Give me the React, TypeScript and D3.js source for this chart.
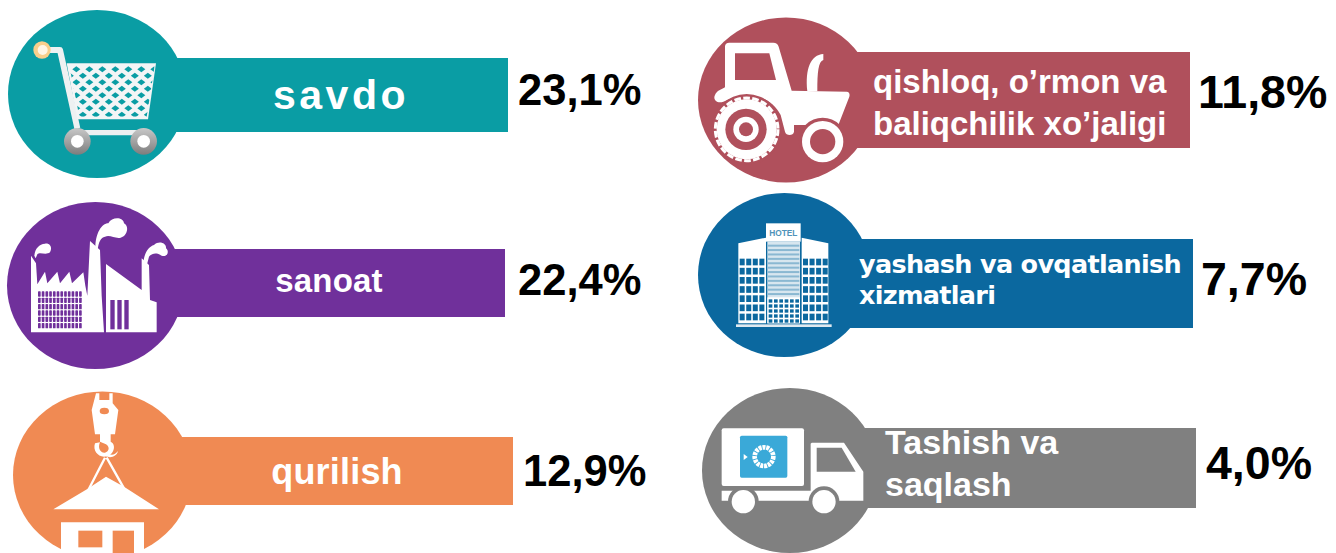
import React from 'react';
import * as d3 from 'd3';

const sectors = ['savdo', 'sanoat', 'qurilish', 'qishloq', 'yashash', 'tashish'];
const shares = [23.1, 22.4, 12.9, 11.8, 7.7, 4.0];
const labelLines = [
  ['savdo'],
  ['sanoat'],
  ['qurilish'],
  ['qishloq, o’rmon va', 'baliqchilik xo’jaligi'],
  ['yashash va ovqatlanish', 'xizmatlari'],
  ['Tashish va', 'saqlash'],
];
const colors = ['#0a9da4', '#70309b', '#f08a53', '#b0505c', '#0b689f', '#808080'];

const WIDTH = 1336;
const HEIGHT = 553;
const SANS = '"Liberation Sans", Arial, sans-serif';

// decimal comma, as in the original
const fmt = d3.formatLocale({ decimal: ',', thousands: ' ', grouping: [3], currency: ['', ''] }).format('.1f');

// layout per sector, the discs are slightly wider than tall in the original
const circleX = d3.scaleOrdinal<string, number>().domain(sectors).range([97, 95.4, 102.4, 786, 784.4, 789.8]);
const circleY = d3.scaleOrdinal<string, number>().domain(sectors).range([94, 285.5, 475, 100, 275, 470.5]);
const circleRx = d3.scaleOrdinal<string, number>().domain(sectors).range([89, 88.4, 89.4, 88, 86.4, 87.8]);
const circleRy = d3.scaleOrdinal<string, number>().domain(sectors).range([84, 83.5, 83.5, 82.5, 82, 82.5]);
const barTop = d3.scaleOrdinal<string, number>().domain(sectors).range([58, 249, 437, 52, 239, 428]);
const barBottom = d3.scaleOrdinal<string, number>().domain(sectors).range([132, 317, 505, 148, 328, 508]);
const barEnd = d3.scaleOrdinal<string, number>().domain(sectors).range([508, 505, 513, 1190, 1193, 1196]);
const shareX = d3.scaleOrdinal<string, number>().domain(sectors).range([518, 518, 523, 1198, 1201, 1206]);
const shareY = d3.scaleOrdinal<string, number>().domain(sectors).range([105, 295, 486, 108, 295, 479]);
const shareSize = d3.scaleOrdinal<string, number>().domain(sectors).range([43.5, 43.5, 43.5, 46.5, 46.5, 46.5]);

type LabelStyle = { x: number; y: number[]; size: number; spacing: number; anchor: string; family: string; };
const labelStyle: LabelStyle[] = [
  { x: 341, y: [109], size: 41, spacing: 3.5, anchor: 'middle', family: SANS },
  { x: 329, y: [292], size: 33, spacing: 0.2, anchor: 'middle', family: SANS },
  { x: 337, y: [484], size: 36, spacing: 0.2, anchor: 'middle', family: SANS },
  { x: 873, y: [93, 135], size: 33, spacing: 0, anchor: 'start', family: SANS },
  { x: 859, y: [273, 304], size: 25.5, spacing: -0.7, anchor: 'start', family: '"DejaVu Sans", sans-serif' },
  { x: 885, y: [454, 496], size: 34, spacing: 0, anchor: 'start', family: SANS },
];

// icons are traced at 3x of the picture, relative to these origins
const Icon = ({ x, y, children }: { x: number; y: number; children: React.ReactNode }) => (
  <g transform={`translate(${x},${y}) scale(${1 / 3})`}>{children}</g>
);

const Cart = ({ color }: { color: string }) => {
  const diamonds: [number, number][] = [];
  d3.range(0, 10).forEach((row) => {
    d3.range(0, 14).forEach((col) => {
      diamonds.push([190 + col * 39 + (row % 2) * 19.5, 208 + row * 19.5]);
    });
  });
  return (
    <Icon x={0} y={0}>
      <defs>
        <clipPath id="basket">
          <path d="M208,198 L464,198 L440,350 L238,350 Z" />
        </clipPath>
        <linearGradient id="wheelGrad" x1="0" y1="0" x2="0" y2="1">
          <stop offset="0" stopColor="#c8c8c8" />
          <stop offset="1" stopColor="#7d7d7d" />
        </linearGradient>
      </defs>
      <path d="M125,150 L180,150 L232,385" fill="none" stroke="#eef1f2" strokeWidth={18} strokeLinejoin="round" />
      <path d="M200,190 L468,190 L444,358 L232,358 Z" fill="#f3f5f6" />
      <g clipPath="url(#basket)" fill={color}>
        {diamonds.map(([dx, dy], i) => (
          <path key={i} d={`M${dx},${dy - 9} L${dx + 12},${dy} L${dx},${dy + 9} L${dx - 12},${dy} Z`} />
        ))}
      </g>
      <path d="M235,398 L440,398" stroke="#eceff0" strokeWidth={16} />
      <circle cx={126} cy={150} r={26} fill="#f8cf8c" />
      <circle cx={128} cy={150} r={15} fill="#fff6e6" />
      <circle cx={232} cy={424} r={40} fill="url(#wheelGrad)" />
      <circle cx={232} cy={424} r={19} fill="#fff" />
      <circle cx={431} cy={424} r={40} fill="url(#wheelGrad)" />
      <circle cx={431} cy={424} r={19} fill="#fff" />
    </Icon>
  );
};

const Factory = ({ color }: { color: string }) => (
  <Icon x={0} y={195}>
    <path
      fill="#fff"
      d="M93,412 L93,182 L108,205 L112,268 L135,230 L142,265 L172,230 L180,265 L208,230 L216,265 L250,232 L256,272 L262,302 L270,138 L300,165 L305,302 L312,412 Z"
    />
    <path fill="#fff" d="M318,412 L318,207 L425,285 L425,190 L447,210 L450,315 L470,322 L470,412 Z" />
    <g fill={color}>
      {d3.range(0, 6).map((row) =>
        d3.range(0, 12).map((col) => (
          <rect key={`${row}-${col}`} x={114 + col * 11.2} y={289 + row * 19} width={8} height={16} rx={2} />
        ))
      )}
      {d3.range(0, 3).map((i) => (
        <rect key={i} x={331 + i * 21} y={315} width={13} height={88} />
      ))}
    </g>
    <g fill="#fff">
      <path d="M103,182 C105,160 118,147 135,146 C150,143 158,158 150,172 C138,182 120,170 112,178 L107,190 Z" />
      <path d="M286,160 C286,115 305,85 325,85 C335,65 370,65 372,85 C390,95 380,125 362,128 C345,132 330,118 315,125 C302,128 296,140 293,165 Z" />
      <path d="M430,205 C432,175 445,155 462,150 C478,135 500,145 498,160 C510,170 500,188 485,182 C470,172 455,175 447,185 L440,212 Z" />
    </g>
  </Icon>
);

const Crane = ({ color }: { color: string }) => (
  <Icon x={0} y={385}>
    <path fill="#fff" d="M288,25 L298,25 L298,45 L328,45 L328,25 L338,25 L338,55 L355,75 L345,148 L332,148 L332,170 C352,180 340,215 312,215 C292,215 278,195 285,175 L300,172 C292,190 302,205 315,203 C328,200 330,185 318,178 L300,170 L300,148 L285,148 L275,75 Z" />
    <ellipse cx={313} cy={78} rx={14} ry={10} fill={color} />
    <path fill="#fff" d="M322,205 C335,212 345,210 354,198 C350,215 332,220 318,214 Z" />
    <path d="M315,218 L265,315 M320,218 L372,310" stroke="#fff" strokeWidth={7} fill="none" />
    <path fill="#fff" d="M160,373 L262,312 L318,275 L372,305 L477,373 Z" />
    <path fill="#fff" d="M183,412 L432,412 L432,553 L183,553 Z" />
    <rect x={235} y={437} width={72} height={50} fill={color} />
    <rect x={338} y={437} width={64} height={116} fill={color} />
  </Icon>
);

const Tractor = ({ color }: { color: string }) => (
  <Icon x={690} y={0}>
    <path fill="#fff" d="M118,128 L250,128 C258,128 264,132 266,140 L305,272 L470,275 C478,276 480,282 478,290 L445,375 L312,375 L312,395 C310,408 288,408 285,395 L272,345 C240,285 170,270 100,305 C80,312 68,298 75,285 C80,272 95,268 105,262 L105,140 C105,132 110,128 118,128 Z" />
    <path fill={color} d="M135,160 L238,160 L258,240 L135,240 Z" />
    <path fill="#fff" d="M352,274 C345,205 362,165 400,162 L400,180 C385,185 382,215 382,274 Z" />
    <circle cx={170} cy={388} r={106} fill={color} />
    <circle cx={170} cy={388} r={94} fill="none" stroke="#fff" strokeWidth={9} strokeDasharray="20 7" />
    <circle cx={170} cy={388} r={90} fill="#fff" />
    <circle cx={168} cy={388} r={62} fill={color} />
    <circle cx={168} cy={388} r={38} fill="#fff" />
    <circle cx={168} cy={388} r={21} fill={color} />
    <circle cx={398} cy={425} r={72} fill={color} />
    <circle cx={398} cy={425} r={62} fill="#fff" />
    <circle cx={398} cy={425} r={38} fill={color} />
  </Icon>
);

const Hotel = ({ color }: { color: string }) => (
  <Icon x={690} y={190}>
    <rect x={138} y={403} width={287} height={8} fill="#dfe9f0" />
    <path fill="#fff" d="M145,160 L228,143 L228,400 L145,400 Z" />
    <path fill="#fff" d="M335,143 L415,160 L415,400 L335,400 Z" />
    <g fill={color}>
      {[149, 339].map((x0) =>
        d3.range(0, 7).map((row) =>
          d3.range(0, 4).map((col) => (
            <rect key={`${x0}-${row}-${col}`} x={x0 + col * 19.7} y={206 + row * 27.5} width={15} height={20} />
          ))
        )
      )}
    </g>
    <rect x={232} y={155} width={98} height={245} fill="#d7e6ef" />
    <g fill="#8ab8d2">
      {d3.range(0, 12).map((i) => (
        <rect key={i} x={234} y={164 + i * 13.2} width={94} height={6} />
      ))}
    </g>
    <rect x={232} y={322} width={98} height={78} fill="#fff" />
    <g fill={color}>
      {d3.range(0, 5).map((row) =>
        d3.range(0, 6).map((col) => (
          <rect key={`${row}-${col}`} x={236 + col * 16} y={328 + row * 15} width={11} height={10} />
        ))
      )}
    </g>
    <rect x={228} y={100} width={104} height={55} fill="#fff" />
    <text x={280} y={138} textAnchor="middle" fontFamily={SANS} fontWeight="bold" fontSize={25} fill="#4f93b9">
      HOTEL
    </text>
  </Icon>
);

const Truck = ({ color }: { color: string }) => (
  <Icon x={690} y={380}>
    <rect x={95} y={145} width={247} height={173} rx={6} fill="#fff" />
    <rect x={150} y={167} width={142} height={126} rx={5} fill="#3aa9d8" />
    <circle cx={222} cy={230} r={28} fill="none" stroke="#fff" strokeWidth={14} strokeDasharray="9 2.5" />
    <circle cx={222} cy={230} r={17} fill="#3aa9d8" />
    <path d="M161,222 L173,231 L161,240 Z" fill="#fff" />
    <path fill="#fff" d="M95,332 L362,332 L362,192 C362,190 364,188 368,188 L462,188 L520,275 L520,362 L95,362 Z" />
    <path fill={color} d="M380,203 L455,203 L497,275 L380,275 Z" />
    <circle cx={160} cy={365} r={46} fill={color} />
    <circle cx={160} cy={365} r={35} fill="#fff" />
    <circle cx={402} cy={365} r={46} fill={color} />
    <circle cx={402} cy={365} r={35} fill="#fff" />
  </Icon>
);

const icons = [Cart, Factory, Crane, Tractor, Hotel, Truck];

export default function App() {
  return (
    <svg
      width={WIDTH}
      height={HEIGHT}
      viewBox={`0 0 ${WIDTH} ${HEIGHT}`}
      style={{ position: 'absolute', left: 0, top: 0, background: '#fff' }}
    >
      {sectors.map((s, i) => {
        const IconShape = icons[i];
        const style = labelStyle[i];
        return (
          <g key={s}>
            <ellipse cx={circleX(s)} cy={circleY(s)} rx={circleRx(s)} ry={circleRy(s)} fill={colors[i]} />
            <rect
              x={circleX(s)}
              y={barTop(s)}
              width={barEnd(s) - circleX(s)}
              height={barBottom(s) - barTop(s)}
              fill={colors[i]}
            />
            <IconShape color={colors[i]} />
            {labelLines[i].map((line, k) => (
              <text
                key={k}
                x={style.x}
                y={style.y[k]}
                textAnchor={style.anchor}
                fontFamily={style.family}
                fontWeight="bold"
                fontSize={style.size}
                letterSpacing={style.spacing}
                fill="#fff"
              >
                {line}
              </text>
            ))}
            <text
              x={shareX(s)}
              y={shareY(s)}
              fontFamily={SANS}
              fontWeight="bold"
              fontSize={shareSize(s)}
              fill="#000"
            >
              {fmt(shares[i])}%
            </text>
          </g>
        );
      })}
    </svg>
  );
}
